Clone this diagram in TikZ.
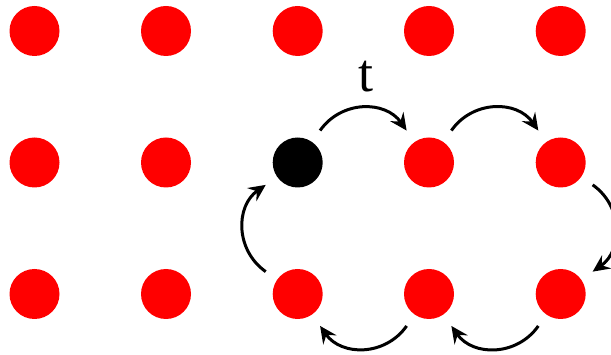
\documentclass[tikz,border=0pt]{standalone}
\usepackage{fontspec}
\setmainfont{Liberation Serif}
\usetikzlibrary{arrows.meta}
\begin{document}
\begin{tikzpicture}[x=1pt,y=-1pt,
  dot/.style={circle,fill=red,minimum size=50pt,inner sep=0pt,outer sep=14pt},
  hole/.style={dot,fill=black},
  hop/.style={line width=3pt,-{Stealth[length=17pt,width=16pt,inset=6pt]},looseness=1.1}]
\useasboundingbox (0,0) rectangle (611,355);
\foreach \c/\x in {1/34.5,2/166,3/297.7,4/429,5/560.7}{
  \foreach \r/\y in {1/31,2/162.5,3/294}{
    \ifnum\c=3 \ifnum\r=2 \node[hole] (n\c\r) at (\x,\y) {};
    \else \node[dot] (n\c\r) at (\x,\y) {}; \fi
    \else \node[dot] (n\c\r) at (\x,\y) {}; \fi
  }
}
\node[anchor=base,font=\fontsize{54}{60}\selectfont,inner sep=0pt] (t) at (365.5,92) {t};
\draw[hop] (n32) to[out=55,in=125] (n42);
\draw[hop] (n42) to[out=55,in=125] (n52);
\draw[hop] (n52) to[out=-35,in=35] (n53);
\draw[hop] (n53) to[out=235,in=-55] (n43);
\draw[hop] (n43) to[out=235,in=-55] (n33);
\draw[hop] (n33) to[out=145,in=215] (n32);
\end{tikzpicture}
\end{document}
